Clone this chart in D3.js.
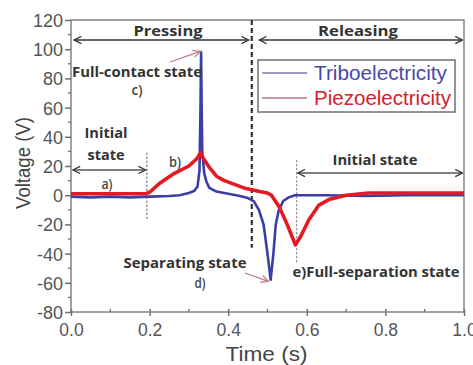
<!DOCTYPE html>
<html>
<head>
<meta charset="utf-8">
<script src="https://cdn.jsdelivr.net/npm/d3@7"></script>
<style>
body { margin: 0; background: #fff; }
text { font-family: "Liberation Sans", Arial, sans-serif; }
.note { font-family: "Open Sans", sans-serif; font-weight: bold; fill: #333; }
.note.tag { font-weight: 600; fill: #444; }
</style>
</head>
<body>
<svg width="473" height="365"></svg>
<script>
// axis ticks
const xTicks = [0, 0.2, 0.4, 0.6, 0.8, 1.0]
const xMinor = [0.1, 0.3, 0.5, 0.7, 0.9]
const yTicks = [-80, -60, -40, -20, 0, 20, 40, 60, 80, 100, 120]
const yMinor = [-70, -50, -30, -10, 10, 30, 50, 70, 90, 110]

// triboelectric output
const triboTime = [0, 0.05, 0.1, 0.15, 0.2, 0.25, 0.276, 0.3, 0.314, 0.322, 0.327, 0.3295, 0.331, 0.3325, 0.334, 0.339, 0.345, 0.352, 0.37, 0.4, 0.43, 0.45, 0.465, 0.478, 0.49, 0.5, 0.508, 0.515, 0.521, 0.529, 0.54, 0.554, 0.57, 0.65, 0.75, 0.85, 1.0]
const triboVolt = [-1, -1.5, -1, -1.5, -1, -0.5, 0, 1.5, 3, 6, 17, 60, 98, 60, 30, 15, 9, 5, 2.5, 1, -0.5, -2, -4, -10, -20, -40, -58, -40, -20, -10, -4, -1.5, 0, 0, -0.5, 0, 0]

// piezoelectric output
const piezoTime = [0, 0.05, 0.1, 0.15, 0.19, 0.2, 0.225, 0.263, 0.3, 0.32, 0.33, 0.335, 0.352, 0.37, 0.39, 0.44, 0.48, 0.5, 0.51, 0.53, 0.55, 0.571, 0.585, 0.605, 0.63, 0.656, 0.7, 0.757, 0.85, 1.0]
const piezoVolt = [1, 1, 1, 1, 1, 2, 8, 15, 20, 25, 29, 26, 19, 13, 10, 5, 2.5, 1.5, 0, -8, -20, -34, -28, -17, -7, -3, 0, 1.5, 1.5, 1.5]

const svg = d3.select("svg")
const margin = {left: 71, right: 9, top: 20, bottom: 53}
const width = 473 - margin.left - margin.right
const height = 365 - margin.top - margin.bottom

const x = d3.scaleLinear().domain([0, 1]).range([margin.left, margin.left + width])
const y = d3.scaleLinear().domain([-80, 120]).range([margin.top + height, margin.top])

const axisColor = "#707070"

// arrow markers
const defs = svg.append("defs")
function marker(id, color, orient){
    defs.append("marker")
        .attr("id", id)
        .attr("viewBox", "0 0 10 10")
        .attr("refX", 9).attr("refY", 5)
        .attr("markerWidth", 9).attr("markerHeight", 9)
        .attr("markerUnits", "userSpaceOnUse")
        .attr("orient", orient)
        .append("path")
        .attr("d", "M1,1 L9,5 L1,9")
        .style("fill", "none")
        .style("stroke", color)
        .style("stroke-width", 1.4)
}
marker("arrowEnd", "#333", "auto")
marker("arrowStart", "#333", "auto-start-reverse")
marker("pinkEnd", "#c07a88", "auto")

// frame
svg.append("rect")
    .attr("x", margin.left).attr("y", margin.top)
    .attr("width", width).attr("height", height)
    .style("fill", "none")
    .style("stroke", axisColor)
    .style("stroke-width", 1.3)

// bottom axis
const xAxisG = svg.append("g").attr("transform", `translate(0, ${margin.top + height})`)
xAxisG.call(d3.axisBottom(x).tickValues(xTicks).tickFormat(d => d.toFixed(1)).tickSize(4).tickPadding(8))
xAxisG.call(g => g.select(".domain").remove())
xAxisG.selectAll(".tick line").attr("y1", -3).style("stroke", axisColor).style("stroke-width", 1.5)
xAxisG.selectAll("text").style("font-size", "17.5px").style("fill", "#555")
xAxisG.selectAll(null).data(xMinor).enter()
    .append("line")
    .attr("x1", d => x(d)).attr("x2", d => x(d))
    .attr("y1", 0).attr("y2", -3)
    .style("stroke", axisColor).style("stroke-width", 1.3)

// left axis
const yAxisG = svg.append("g").attr("transform", `translate(${margin.left}, 0)`)
yAxisG.call(d3.axisLeft(y).tickValues(yTicks).tickFormat(d => String(d)).tickSize(6).tickPadding(2))
yAxisG.call(g => g.select(".domain").remove())
yAxisG.selectAll(".tick line").style("stroke", axisColor).style("stroke-width", 1.5)
yAxisG.selectAll("text").style("font-size", "18px").style("fill", "#555").attr("dy", "0.36em")
yAxisG.selectAll(null).data(yMinor).enter()
    .append("line")
    .attr("x1", 0).attr("x2", -3)
    .attr("y1", d => y(d)).attr("y2", d => y(d))
    .style("stroke", axisColor).style("stroke-width", 1.3)

// axis titles
svg.append("text")
    .attr("x", x(0.5) - 1).attr("y", 361)
    .attr("text-anchor", "middle")
    .attr("textLength", 82).attr("lengthAdjust", "spacingAndGlyphs")
    .style("font-size", "21px").style("fill", "#444")
    .text("Time (s)")

svg.append("text")
    .attr("transform", "translate(30, 163) rotate(-90)")
    .attr("text-anchor", "middle")
    .attr("textLength", 92).attr("lengthAdjust", "spacingAndGlyphs")
    .style("font-size", "21px").style("fill", "#444")
    .text("Voltage (V)")

// vertical markers
svg.append("line")
    .attr("x1", x(0.46)).attr("x2", x(0.46))
    .attr("y1", y(120)).attr("y2", y(-36))
    .style("stroke", "#333").style("stroke-width", 2.2)
    .style("stroke-dasharray", "5,3")

svg.append("line")
    .attr("x1", x(0.193)).attr("x2", x(0.193))
    .attr("y1", y(29)).attr("y2", y(-17))
    .style("stroke", "#777").style("stroke-width", 1.3)
    .style("stroke-dasharray", "2,2")

svg.append("line")
    .attr("x1", x(0.574)).attr("x2", x(0.574))
    .attr("y1", y(24)).attr("y2", y(-46))
    .style("stroke", "#888").style("stroke-width", 1.3)
    .style("stroke-dasharray", "2,2")

// traces
const line = d3.line()
    .x(d => x(d[0]))
    .y(d => y(d[1]))

svg.append("path")
    .datum(d3.zip(triboTime, triboVolt))
    .attr("d", line)
    .style("fill", "none")
    .style("stroke", "#3a3ea6")
    .style("stroke-width", 2.6)
    .style("stroke-linejoin", "round")

svg.append("path")
    .datum(d3.zip(piezoTime, piezoVolt))
    .attr("d", line)
    .style("fill", "none")
    .style("stroke", "#e41a22")
    .style("stroke-width", 3.6)
    .style("stroke-linejoin", "round")

// double arrows
function doubleArrow(t0, t1, v, color){
    svg.append("line")
        .attr("x1", x(t0)).attr("x2", x(t1))
        .attr("y1", y(v)).attr("y2", y(v))
        .style("stroke", color).style("stroke-width", 1.6)
        .attr("marker-start", "url(#arrowStart)")
        .attr("marker-end", "url(#arrowEnd)")
}
doubleArrow(0.008, 0.452, 106.3, "#333")
doubleArrow(0.479, 0.996, 106.3, "#333")
doubleArrow(0.005, 0.19, 17.3, "#555")
doubleArrow(0.577, 0.996, 15.2, "#555")

// pink pointers
svg.append("line")
    .attr("x1", 170).attr("y1", 62).attr("x2", x(0.329)).attr("y2", y(98.5))
    .style("stroke", "#c07a88").style("stroke-width", 1.3)
    .attr("marker-end", "url(#pinkEnd)")
svg.append("line")
    .attr("x1", 245).attr("y1", 273).attr("x2", x(0.502)).attr("y2", y(-59))
    .style("stroke", "#c07a88").style("stroke-width", 1.3)
    .attr("marker-end", "url(#pinkEnd)")

// annotation texts
function note(txt, cx, by, size, len, cls){
    svg.append("text")
        .attr("class", cls ? "note " + cls : "note")
        .attr("x", cx).attr("y", by)
        .attr("text-anchor", "middle")
        .attr("textLength", len).attr("lengthAdjust", "spacingAndGlyphs")
        .style("font-size", size + "px")
        .text(txt)
}
note("Pressing", 168, 36, 15, 69)
note("Releasing", 358, 36, 15, 80)
note("Full-contact state", 137, 77, 13.5, 130)
note("c)", 137, 95, 14, 11, "tag")
note("Initial", 106, 138, 14, 43)
note("state", 106, 160, 14, 37)
note("a)", 107, 189, 14, 11, "tag")
note("b)", 175, 167, 14, 12, "tag")
note("Initial state", 375, 165, 14, 85)
note("Separating state", 185, 268, 13.5, 123)
note("d)", 200, 288, 14, 11, "tag")
note("e)Full-separation state", 376, 277, 13.5, 167)

// legend
const legend = svg.append("g")
legend.append("rect")
    .attr("x", 258).attr("y", 60)
    .attr("width", 197).attr("height", 52)
    .style("fill", "#fff")
    .style("stroke", axisColor).style("stroke-width", 1.5)

const legendItems = [
    {name: "Triboelectricity", line: "#7a7cb0", text: "#4a4aa6"},
    {name: "Piezoelectricity", line: "#b07a80", text: "#d8202c"}
]
legendItems.forEach((d, i) => {
    const ly = 73 + i * 25
    legend.append("line")
        .attr("x1", 262).attr("x2", 307)
        .attr("y1", ly).attr("y2", ly)
        .style("stroke", d.line).style("stroke-width", 1.5)
    legend.append("text")
        .attr("x", 314).attr("y", ly + 7)
        .attr("textLength", i ? 137 : 133).attr("lengthAdjust", "spacingAndGlyphs")
        .style("font-size", "20px")
        .style("fill", d.text)
        .text(d.name)
})
</script>
</body>
</html>
